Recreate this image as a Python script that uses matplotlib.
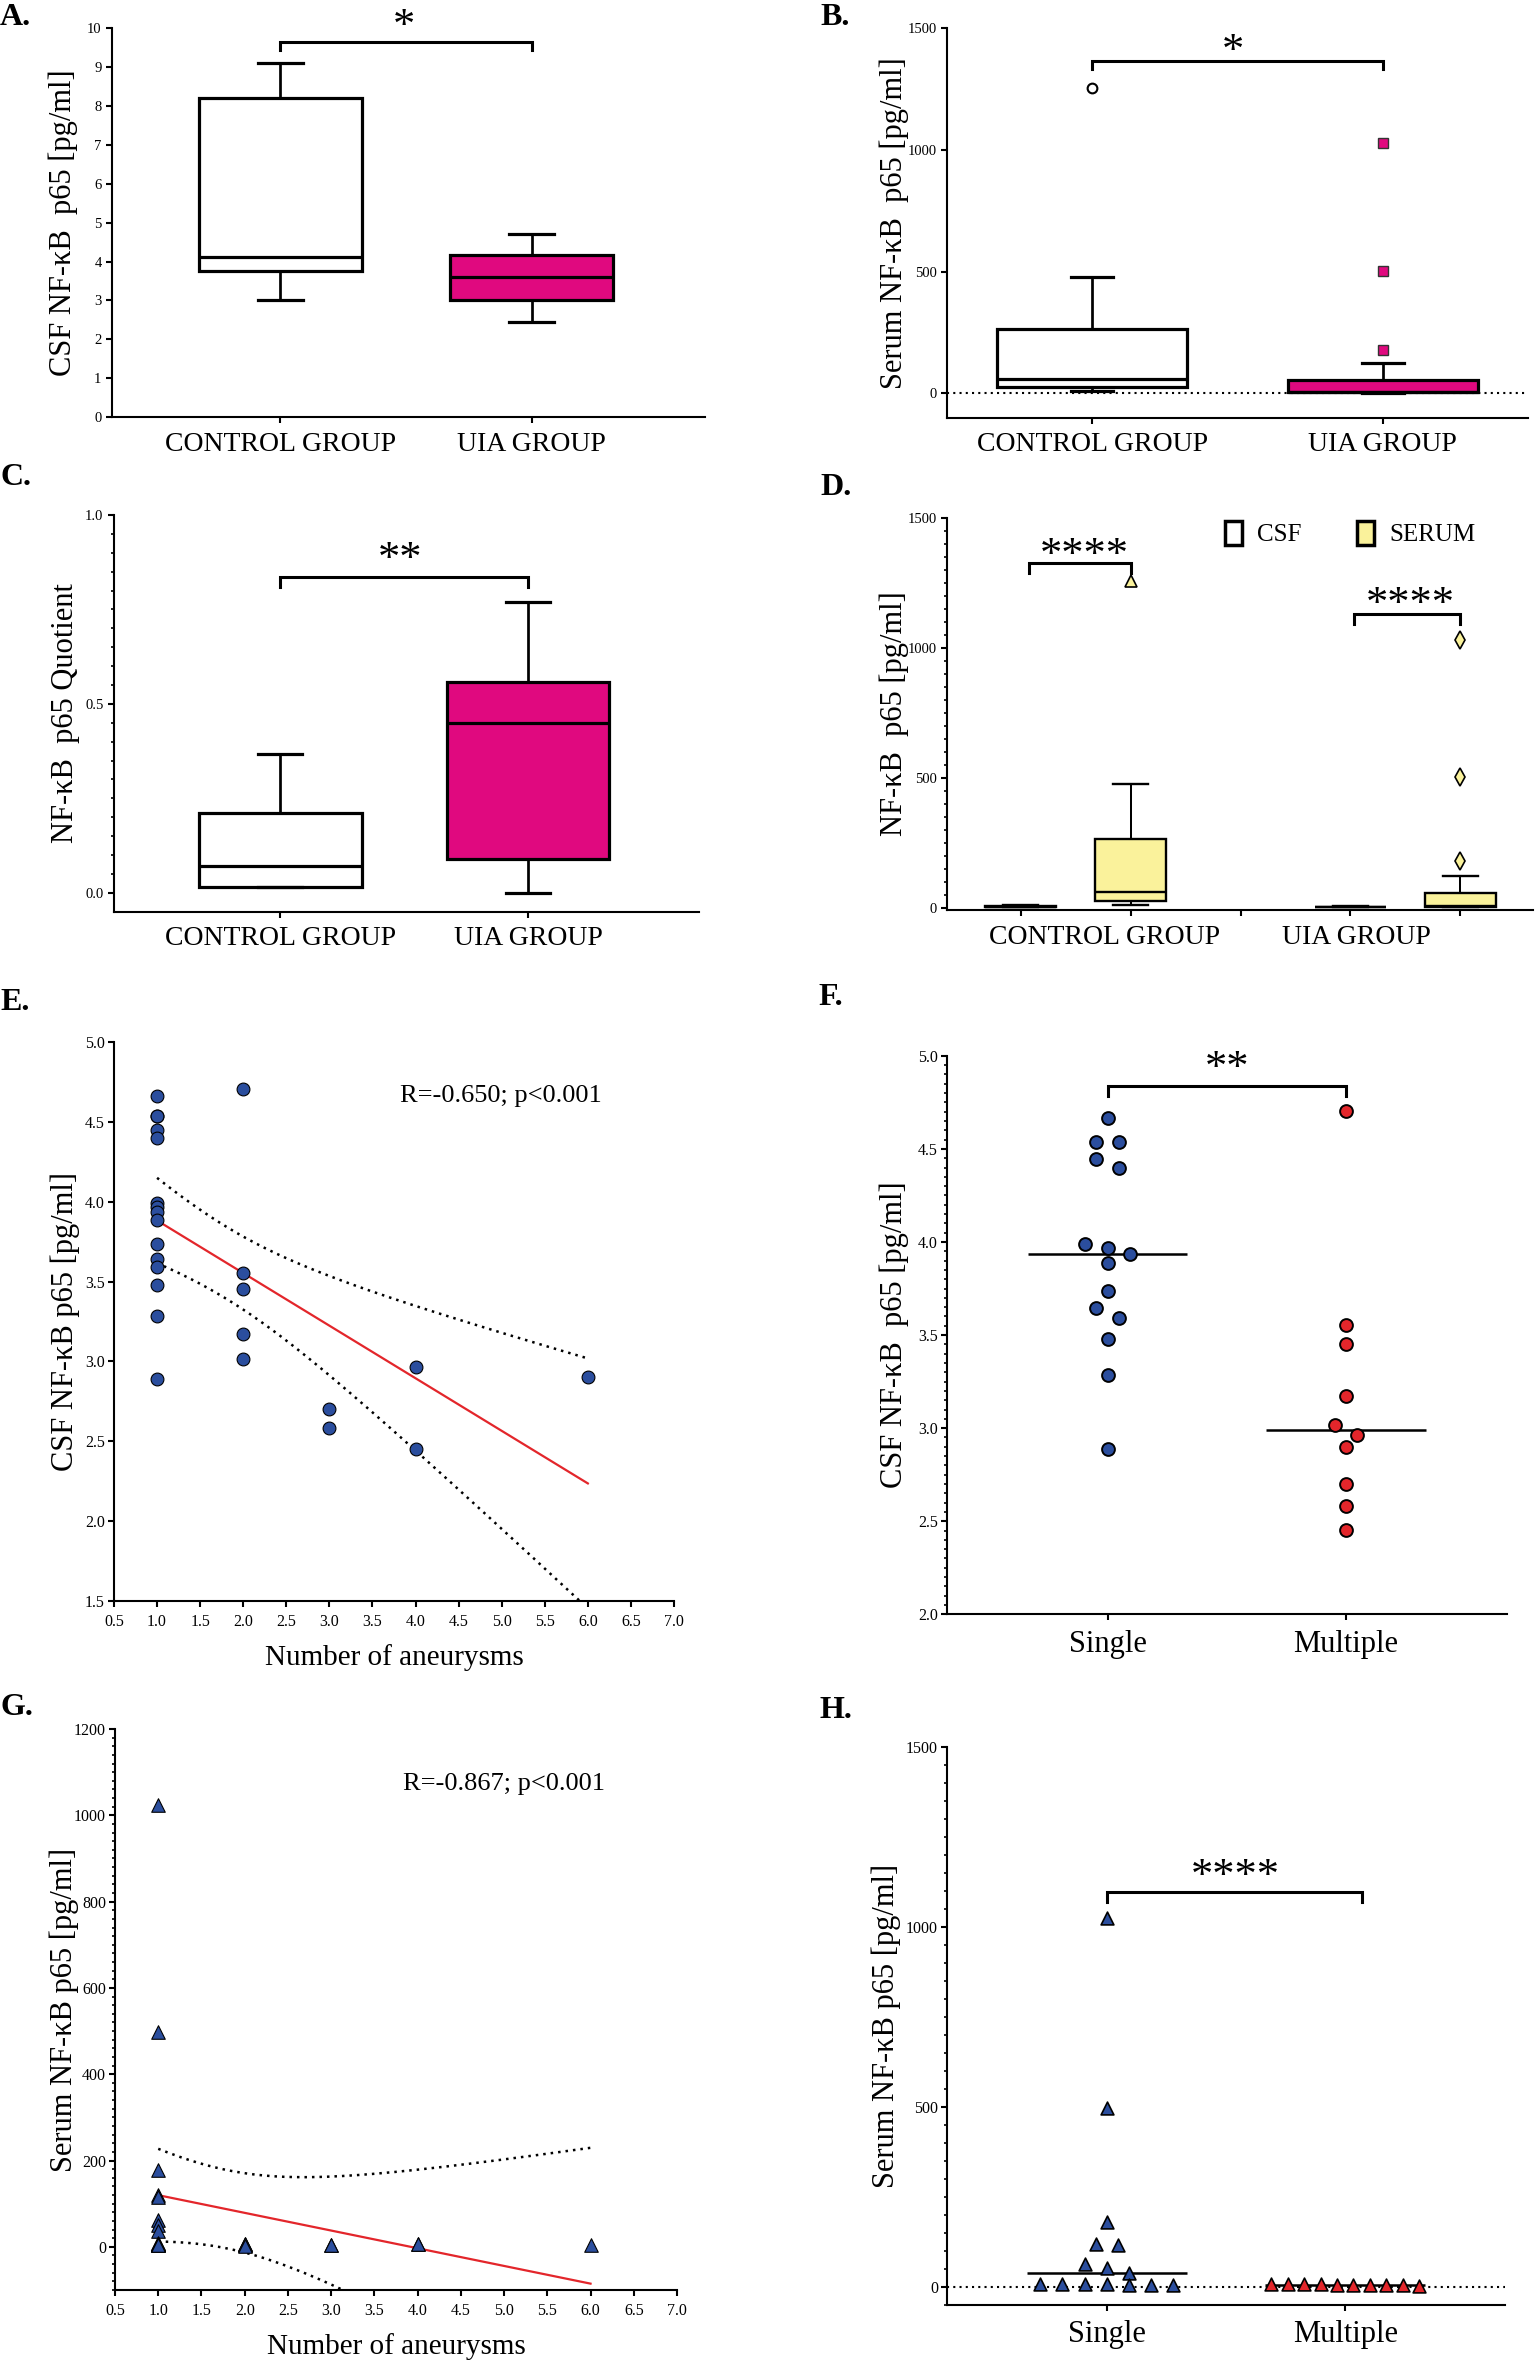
import numpy as np
import matplotlib
matplotlib.use("Agg")
import matplotlib.pyplot as plt
from matplotlib.patches import Patch
from matplotlib.ticker import MultipleLocator, FormatStrFormatter

plt.rcParams['font.family'] = ['Liberation Serif', 'DejaVu Serif']

# ---- data ----
groups = ["CONTROL GROUP", "UIA GROUP"]
# box stats: whisker low, Q1, median, Q3, whisker high
csf_control_box = [3.0, 3.75, 4.12, 8.2, 9.1]
csf_uia_box = [2.45, 3.0, 3.6, 4.17, 4.7]
serum_control_box = [11, 25, 59, 263, 477]
serum_control_out = [1256]
serum_uia_box = [2, 4, 6, 55, 123]
serum_uia_out = [178, 503, 1028]
quot_control_box = [0.015, 0.015, 0.07, 0.212, 0.368]
quot_uia_box = [0.0, 0.09, 0.45, 0.558, 0.769]

aneur_groups = ["Single", "Multiple"]
csf_single = [4.665, 4.536, 4.536, 4.448, 4.396, 3.989, 3.965, 3.937,
              3.885, 3.734, 3.643, 3.592, 3.477, 3.285, 2.888]
csf_multiple = [4.704, 3.556, 3.452, 3.171, 3.018, 2.963, 2.900, 2.701, 2.581, 2.452]
serum_single = [1024, 497, 178, 119, 115, 62, 51, 37, 8, 7, 6, 6, 5, 5, 4]
serum_multiple = [5, 7, 5, 6, 2, 6, 4, 5, 4, 6]
n_aneur_multiple = [2, 2, 2, 2, 2, 4, 6, 3, 3, 4]

corr_csf = "R=-0.650; p<0.001"
corr_serum = "R=-0.867; p<0.001"

MAGENTA = "#E0097F"
YELLOW = "#FAF29B"
BLUE = "#2B4E9E"
RED = "#E3262B"
T_CRIT = 2.069  # t(0.975, df=23)

W, H = 1536, 2362
fig = plt.figure(figsize=(W / 100, H / 100), dpi=100)


def add_ax(l, r, t, b):
    ax = fig.add_axes([l / W, 1 - b / H, (r - l) / W, (b - t) / H])
    for s in ["top", "right"]:
        ax.spines[s].set_visible(False)
    for s in ["left", "bottom"]:
        ax.spines[s].set_linewidth(1.5)
    ax.tick_params(which="major", direction="out", length=4.5, width=1.5)
    ax.tick_params(which="minor", direction="out", length=2.5, width=1.2)
    ax._wpx = r - l
    return ax


def ylab(ax, text, off=34):
    ax.set_ylabel(text, fontsize=22)
    ax.yaxis.set_label_coords(-off / ax._wpx, 0.5)


def stats(box, out=()):
    lo, q1, med, q3, hi = box
    return dict(whislo=lo, q1=q1, med=med, q3=q3, whishi=hi, fliers=list(out))


def boxes(ax, st, pos, colors, width, capw, lw, fliers=None):
    for i, (s, p, c) in enumerate(zip(st, pos, colors)):
        fp = fliers[i] if fliers else {}
        ax.bxp([s], positions=[p], widths=width, patch_artist=True, manage_ticks=False,
               capwidths=capw,
               boxprops=dict(facecolor=c, edgecolor="black", linewidth=lw),
               medianprops=dict(color="black", linewidth=lw),
               whiskerprops=dict(color="black", linewidth=lw * 0.85),
               capprops=dict(color="black", linewidth=lw),
               flierprops=fp, zorder=3)


def bracket(ax, x0, x1, y, leg, text, ty, tx, fs=32):
    ax.plot([x0, x0, x1, x1], [y - leg, y, y, y - leg], color="black", lw=2.2,
            clip_on=False, solid_joinstyle="miter")
    ax.annotate(text, (tx, ty), xytext=(0, -0.47 * fs), textcoords="offset points",
                ha="center", va="baseline", fontsize=fs, annotation_clip=False)


def row_offsets(vals, bin_h, step, max_w):
    vals = np.asarray(vals, dtype=float)
    order = np.argsort(-vals, kind="stable")
    offs = np.zeros(len(vals))
    i = 0
    while i < len(order):
        j = i
        while j + 1 < len(order) and vals[order[i]] - vals[order[j + 1]] < bin_h:
            j += 1
        n = j - i + 1
        s = step if n == 1 else min(step, max_w / (n - 1))
        for k in range(n):
            offs[order[i + k]] = (k - (n - 1) / 2) * s
        i = j + 1
    return offs


def regression(ax, x, y):
    x = np.asarray(x, float)
    y = np.asarray(y, float)
    b, a = np.polyfit(x, y, 1)
    n = len(x)
    s = np.sqrt(np.sum((y - (a + b * x)) ** 2) / (n - 2))
    sxx = np.sum((x - x.mean()) ** 2)
    xs = np.linspace(x.min(), x.max(), 200)
    yh = a + b * xs
    se = s * np.sqrt(1 / n + (xs - x.mean()) ** 2 / sxx)
    ax.plot(xs, yh, color=RED, lw=1.6, zorder=2)
    for sign in (-1, 1):
        ax.plot(xs, yh + sign * T_CRIT * se, color="black", lw=1.8,
                linestyle=(0, (1, 2)), zorder=2)


# ---- A ----
ax = add_ax(112, 705, 28.3, 417)
boxes(ax, [stats(csf_control_box), stats(csf_uia_box)], [0, 1], ["white", MAGENTA], 0.65, 0.18, 2.3)
ax.set_xlim(-0.67, 1.69)
ax.set_ylim(0, 10)
ax.set_yticks(range(0, 11))
ax.set_xticks([0, 1], groups, fontsize=20)
ax.tick_params(axis="x", pad=6)
ax.tick_params(axis="y", labelsize=10.5, pad=3)
ylab(ax, "CSF NF-κB  p65 [pg/ml]")
bracket(ax, 0, 1, 9.65, 0.21, "*", 10.3, 0.49)

# ---- B ----
ax = add_ax(947, 1528, 28.3, 417.6)
ax.axhline(0, color="black", lw=1.5, linestyle=(0, (1, 2)), zorder=1)
boxes(ax, [stats(serum_control_box, serum_control_out), stats(serum_uia_box, serum_uia_out)],
      [0, 1], ["white", MAGENTA], 0.655, 0.145, 2.3,
      fliers=[dict(marker="o", markerfacecolor="white", markeredgecolor="black", markersize=7, markeredgewidth=1.5),
              dict(marker="s", markerfacecolor=MAGENTA, markeredgecolor="#333333", markersize=7.5, markeredgewidth=1)])
ax.set_xlim(-0.5, 1.5)
ax.set_ylim(-100, 1500)
ax.set_yticks([0, 500, 1000, 1500])
ax.set_xticks([0, 1], groups, fontsize=20)
ax.tick_params(axis="x", pad=6)
ax.tick_params(axis="y", labelsize=10.5, pad=3)
ylab(ax, "Serum NF-κB  p65 [pg/ml]", off=38)
bracket(ax, 0, 1, 1367, 35, "*", 1445, 0.486)

# ---- C ----
ax = add_ax(114, 699, 515, 911.7)
boxes(ax, [stats(quot_control_box), stats(quot_uia_box)], [0, 1], ["white", MAGENTA], 0.657, 0.176, 2.3)
ax.set_xlim(-0.67, 1.69)
ax.set_ylim(-0.05, 1.0)
ax.set_yticks([0.0, 0.5, 1.0])
ax.yaxis.set_major_formatter(FormatStrFormatter("%.1f"))
ax.set_yticks(np.arange(0, 1.0001, 0.05), minor=True)
ax.set_xticks([0, 1], groups, fontsize=20)
ax.tick_params(axis="x", pad=6)
ax.tick_params(axis="y", labelsize=10.5, pad=3)
ylab(ax, "NF-κB  p65 Quotient")
bracket(ax, 0, 1, 0.837, 0.027, "**", 0.907, 0.484)

# ---- D ----
ax = add_ax(947, 1533, 517.7, 910)
boxes(ax, [stats(csf_control_box), stats(serum_control_box, serum_control_out),
           stats(csf_uia_box), stats(serum_uia_box, serum_uia_out)],
      [0, 1, 3, 4], ["white", YELLOW, "white", YELLOW], 0.65, 0.32, 1.7,
      fliers=[{}, dict(marker="^", markerfacecolor=YELLOW, markeredgecolor="black", markersize=8, markeredgewidth=1.2),
              {}, dict(marker="d", markerfacecolor=YELLOW, markeredgecolor="black", markersize=9, markeredgewidth=1.2)])
ax.set_xlim(-0.67, 4.66)
ax.set_ylim(-9, 1500)
ax.set_yticks([0, 500, 1000, 1500])
ax.yaxis.set_minor_locator(MultipleLocator(50))
ax.set_xticks([0, 1, 2, 3, 4], [""] * 5)
ax.tick_params(axis="y", labelsize=10.5, pad=3)
for gx, g in zip([0.76, 3.05], groups):
    ax.annotate(g, (gx, 0), xycoords=("data", "axes fraction"), xytext=(0, -19.5),
                textcoords="offset points", ha="center", va="center", fontsize=20)
ylab(ax, "NF-κB  p65 [pg/ml]", off=38)
bracket(ax, 0.08, 1, 1325, 39, "****", 1391, 0.58)
bracket(ax, 3.03, 4, 1130, 39, "****", 1203, 3.54)
ax.legend(handles=[Patch(facecolor="white", edgecolor="black", linewidth=2.5, label="CSF"),
                   Patch(facecolor=YELLOW, edgecolor="black", linewidth=2.5, label="SERUM")],
          ncol=2, frameon=False, loc="upper right", bbox_to_anchor=(0.94, 1.05),
          fontsize=18, handlelength=0.7, handleheight=1.1, handletextpad=0.6, columnspacing=2.2)

# ---- E ----
ax = add_ax(114, 674, 1042, 1601)
xe = [1] * len(csf_single) + n_aneur_multiple
ye = csf_single + csf_multiple
regression(ax, xe, ye)
ax.scatter(xe, ye, s=85, color=BLUE, edgecolors="black", linewidths=0.8, zorder=3)
ax.set_xlim(0.5, 7.0)
ax.set_ylim(1.5, 5.0)
ax.set_xticks(np.arange(0.5, 7.01, 0.5))
ax.set_yticks(np.arange(1.5, 5.01, 0.5))
ax.xaxis.set_major_formatter(FormatStrFormatter("%.1f"))
ax.yaxis.set_major_formatter(FormatStrFormatter("%.1f"))
ax.tick_params(labelsize=11.5)
ax.tick_params(axis="x", pad=5)
ax.tick_params(axis="y", pad=2)
ax.set_xlabel("Number of aneurysms", fontsize=21, labelpad=10)
ylab(ax, "CSF NF-κB p65 [pg/ml]")
ax.text(3.82, 4.66, corr_csf, fontsize=19, va="center")

# ---- F ----
ax = add_ax(947, 1506.6, 1055.8, 1614.3)
for i, (vals, col) in enumerate([(csf_single, BLUE), (csf_multiple, RED)]):
    offs = row_offsets(vals, 0.06, 0.094, 0.62)
    ax.scatter(i + offs, vals, s=85, color=col, edgecolors="black", linewidths=1.4, zorder=3)
    ax.hlines(np.median(vals), i - 0.335, i + 0.335, color="black", lw=1.8, zorder=2)
ax.set_xlim(-0.673, 1.673)
ax.set_ylim(2.0, 5.0)
ax.set_yticks(np.arange(2.0, 5.01, 0.5))
ax.yaxis.set_major_formatter(FormatStrFormatter("%.1f"))
ax.yaxis.set_minor_locator(MultipleLocator(0.05))
ax.set_xticks([0, 1], aneur_groups, fontsize=22)
ax.tick_params(axis="x", pad=7)
ax.tick_params(axis="y", labelsize=11.5, pad=2)
ylab(ax, "CSF NF-κB  p65 [pg/ml]", off=38)
bracket(ax, 0, 1, 4.84, 0.055, "**", 4.98, 0.50)

# ---- G ----
ax = add_ax(115, 677, 1729, 2290)
xg = [1] * len(serum_single) + n_aneur_multiple
yg = serum_single + serum_multiple
regression(ax, xg, yg)
ax.scatter(xg, yg, s=95, marker="^", color=BLUE, edgecolors="black", linewidths=0.8, zorder=3)
ax.set_xlim(0.5, 7.0)
ax.set_ylim(-100, 1200)
ax.set_xticks(np.arange(0.5, 7.01, 0.5))
ax.xaxis.set_major_formatter(FormatStrFormatter("%.1f"))
ax.set_yticks(range(0, 1201, 200))
ax.set_yticks(range(-100, 1201, 20), minor=True)
ax.tick_params(labelsize=11.5)
ax.tick_params(axis="x", pad=5)
ax.tick_params(axis="y", pad=2)
ax.set_xlabel("Number of aneurysms", fontsize=21, labelpad=10)
ylab(ax, "Serum NF-κB p65 [pg/ml]", off=36)
ax.text(3.83, 1072, corr_serum, fontsize=19, va="center")

# ---- H ----
ax = add_ax(947, 1505, 1747, 2304.5)
ax.axhline(0, color="black", lw=1.5, linestyle=(0, (1, 2)), zorder=1)
for i, (vals, col) in enumerate([(serum_single, BLUE), (serum_multiple, RED)]):
    offs = row_offsets(vals, 30, 0.093, 0.62)
    ax.scatter(i + offs, vals, s=85, marker="^", color=col, edgecolors="black", linewidths=1.2, zorder=3)
    ax.hlines(np.median(vals), i - 0.335, i + 0.335, color="black", lw=1.8, zorder=2)
ax.set_xlim(-0.67, 1.67)
ax.set_ylim(-50, 1500)
ax.set_yticks([0, 500, 1000, 1500])
ax.yaxis.set_minor_locator(MultipleLocator(50))
ax.set_xticks([0, 1], aneur_groups, fontsize=22)
ax.tick_params(axis="x", pad=7)
ax.tick_params(axis="y", labelsize=11.5, pad=2)
ylab(ax, "Serum NF-κB p65 [pg/ml]", off=46)
bracket(ax, 0, 1.07, 1097, 27, "****", 1167, 0.54)

# ---- panel letters ----
for letter, (px, py) in zip("ABCDEFGH", [(0, 3), (820, 3), (0, 463), (820, 473),
                                         (0, 988), (818, 983), (0, 1693), (819, 1696)]):
    fig.text(px / W, 1 - py / H, letter + ".", fontsize=23, fontweight="bold",
             ha="left", va="top")

fig.savefig("out.png", dpi=100)
